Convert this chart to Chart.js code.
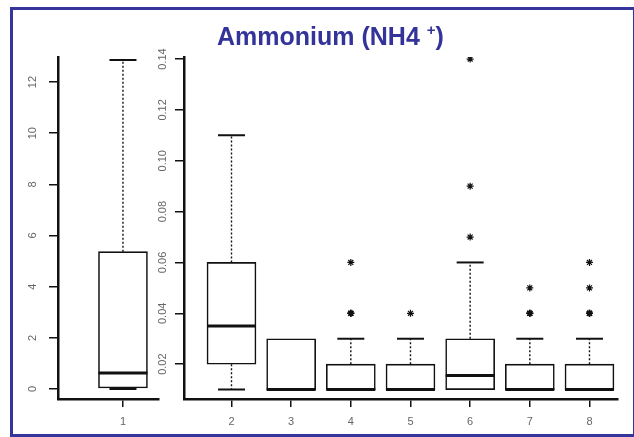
<!DOCTYPE html>
<html>
<head>
<meta charset="utf-8">
<script src="https://cdn.jsdelivr.net/npm/chart.js@4.4.1/dist/chart.umd.min.js"></script>
<style>
  html, body { margin: 0; padding: 0; background: #fff; overflow: hidden; }
  #frame {
    position: absolute; left: 10px; top: 7px; width: 626px; height: 430px;
    box-sizing: border-box; border: 3px solid #35359b;
  }
  #title {
    position: absolute; left: 217px; top: 24px; white-space: nowrap;
    font: bold 25px "Liberation Sans", Arial, sans-serif; line-height: 25px; color: #33339a;
  }
  #title sup { font-size: 15px; vertical-align: baseline; position: relative; top: -10px; }
  canvas { position: absolute; top: 0; }
</style>
</head>
<body>
<div id="frame"></div>
<canvas id="left-chart" width="175" height="437" style="left:0"></canvas>
<canvas id="right-chart" width="494" height="437" style="left:140px"></canvas>
<div id="title">Ammonium (NH4 <sup>+</sup>)</div>
<script>
// site 1 sits on its own scale
const leftSites = [1];
const leftLow = [0];
const leftQ1 = [0.04];
const leftMedian = [0.63];
const leftQ3 = [5.37];
const leftHigh = [12.86];
const leftTicks = [0, 2, 4, 6, 8, 10, 12];
const leftTickLabels = ["0", "2", "4", "6", "8", "10", "12"];

// sites 2..8
const rightSites = [2, 3, 4, 5, 6, 7, 8];
const rightLow = [0.01, 0.01, 0.01, 0.01, 0.01, 0.01, 0.01];
const rightQ1 = [0.02, 0.01, 0.01, 0.01, 0.01, 0.01, 0.01];
const rightMedian = [0.035, 0.01, 0.01, 0.01, 0.0155, 0.01, 0.01];
const rightQ3 = [0.06, 0.03, 0.02, 0.02, 0.03, 0.02, 0.02];
const rightHigh = [0.11, 0.03, 0.03, 0.03, 0.06, 0.03, 0.03];
const outlierSites = [4, 4, 4, 5, 6, 6, 6, 7, 7, 7, 8, 8, 8, 8];
const outlierValues = [0.04, 0.04, 0.06, 0.04, 0.07, 0.09, 0.14, 0.04, 0.04, 0.05, 0.04, 0.04, 0.05, 0.06];
const rightTicks = [0.02, 0.04, 0.06, 0.08, 0.10, 0.12, 0.14];
const rightTickLabels = ["0.02", "0.04", "0.06", "0.08", "0.10", "0.12", "0.14"];

const INK = "#111";
const LABEL = "#666";
const FONT = "'Liberation Sans', Arial, sans-serif";
const BOX_W = 49;
const CAP_W = 27;

function boxPanel(canvasId, p) {
  const extras = {
    id: "boxExtras",
    afterDatasetsDraw(chart) {
      const { ctx } = chart;
      const x = chart.scales.x, y = chart.scales.y;
      ctx.save();
      ctx.strokeStyle = INK;
      p.sites.forEach((site, i) => {
        const cx = x.getPixelForValue(site);
        const yLow = y.getPixelForValue(p.low[i]);
        const yQ1 = y.getPixelForValue(p.q1[i]);
        const yQ3 = y.getPixelForValue(p.q3[i]);
        const yHigh = y.getPixelForValue(p.high[i]);
        const yMed = y.getPixelForValue(p.median[i]);

        // dotted whiskers
        ctx.lineWidth = 1.4;
        ctx.setLineDash([2, 2]);
        ctx.beginPath();
        ctx.moveTo(cx, yQ3); ctx.lineTo(cx, yHigh);
        ctx.moveTo(cx, yQ1); ctx.lineTo(cx, yLow);
        ctx.stroke();

        // whisker caps, hidden in the box edge when whisker = hinge
        ctx.setLineDash([]);
        ctx.lineWidth = 2;
        ctx.beginPath();
        if (p.high[i] !== p.q3[i]) {
          ctx.moveTo(cx - CAP_W / 2, yHigh); ctx.lineTo(cx + CAP_W / 2, yHigh);
        }
        if (p.low[i] !== p.q1[i]) {
          ctx.moveTo(cx - CAP_W / 2, yLow); ctx.lineTo(cx + CAP_W / 2, yLow);
        }
        ctx.stroke();

        // median
        ctx.lineWidth = 3;
        ctx.beginPath();
        ctx.moveTo(cx - BOX_W / 2, yMed); ctx.lineTo(cx + BOX_W / 2, yMed);
        ctx.stroke();
      });
      ctx.restore();
    },
    afterDraw(chart) {
      // y labels run along the axis, like R's default
      const { ctx } = chart;
      const y = chart.scales.y;
      const lx = chart.chartArea.left - p.labelGap;
      ctx.save();
      ctx.fillStyle = LABEL;
      ctx.font = "11px " + FONT;
      ctx.textAlign = "center";
      ctx.textBaseline = "middle";
      p.ticks.forEach((v, i) => {
        ctx.save();
        ctx.translate(lx, y.getPixelForValue(v));
        ctx.rotate(-Math.PI / 2);
        ctx.fillText(p.tickLabels[i], 0, 0);
        ctx.restore();
      });
      ctx.restore();
    }
  };

  const outliers = p.outlierSites.map((s, i) => ({ x: s, y: p.outlierValues[i] }));
  const repeats = outliers.map(pt => outliers.filter(o => o.x === pt.x && o.y === pt.y).length);

  return new Chart(document.getElementById(canvasId), {
    type: "bar",
    data: {
      datasets: [
        {
          type: "bar",
          data: p.sites.map((s, i) => ({ x: s, y: [p.q1[i], p.q3[i]] })),
          backgroundColor: "#fff",
          borderColor: INK,
          borderWidth: 1.6,
          borderSkipped: false,
          barThickness: BOX_W,
          order: 2
        },
        {
          type: "scatter",
          data: outliers,
          pointStyle: "star",
          pointRadius: 3.5,
          borderColor: INK,
          backgroundColor: INK,
          borderWidth: ctx => (repeats[ctx.dataIndex] > 1 ? 1.6 : 1.2),
          order: 1
        }
      ]
    },
    options: {
      responsive: false,
      animation: false,
      layout: { padding: { left: 0, top: 57, right: p.padRight, bottom: 0 } },
      plugins: {
        legend: { display: false },
        tooltip: { enabled: false },
        title: { display: false }
      },
      scales: {
        x: {
          type: "linear",
          min: p.xMin,
          max: p.xMax,
          offset: false,
          grid: { offset: false, drawOnChartArea: false, drawTicks: true, tickLength: 8, color: INK, lineWidth: 1.5 },
          border: { display: true, color: INK, width: 2.5 },
          ticks: { color: LABEL, font: { size: 11, family: FONT }, padding: 8, maxRotation: 0, callback: v => String(v) },
          afterBuildTicks: s => { s.ticks = p.sites.map(v => ({ value: v })); },
          afterFit: s => { s.height = 38; }
        },
        y: {
          type: "linear",
          min: p.yMin,
          max: p.yMax,
          beginAtZero: false,
          grid: { drawOnChartArea: false, drawTicks: true, tickLength: 9, color: INK, lineWidth: 1.5 },
          border: { display: true, color: INK, width: 2.5 },
          ticks: { display: false },
          afterBuildTicks: s => { s.ticks = p.ticks.map(v => ({ value: v })); },
          afterFit: s => { s.width = p.axisLeft; }
        }
      }
    },
    plugins: [extras]
  });
}

boxPanel("left-chart", {
  sites: leftSites, low: leftLow, q1: leftQ1, median: leftMedian, q3: leftQ3, high: leftHigh,
  outlierSites: [], outlierValues: [],
  ticks: leftTicks, tickLabels: leftTickLabels,
  xMin: -0.089, xMax: 1.604, yMin: -0.39, yMax: 12.98,
  axisLeft: 58, padRight: 16, labelGap: 25
});

boxPanel("right-chart", {
  sites: rightSites, low: rightLow, q1: rightQ1, median: rightMedian, q3: rightQ3, high: rightHigh,
  outlierSites: outlierSites, outlierValues: outlierValues,
  ticks: rightTicks, tickLabels: rightTickLabels,
  xMin: 1.204, xMax: 8.478, yMin: 0.0063, yMax: 0.1408,
  axisLeft: 44, padRight: 16, labelGap: 21
});
</script>
</body>
</html>
